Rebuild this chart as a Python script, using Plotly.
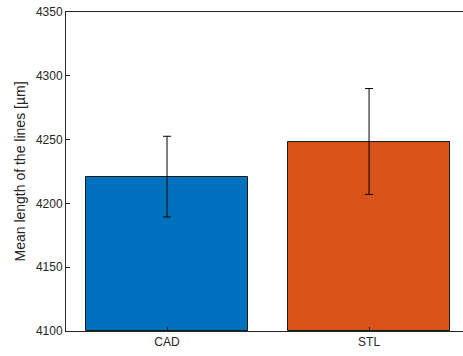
import plotly.graph_objects as go

categories = ["CAD", "STL"]
means = [4221, 4248.5]
errors = [31.6, 41.5]
colors = ["#0072BD", "#D95319"]
ytick_vals = [4100, 4150, 4200, 4250, 4300, 4350]

x_pos = [1, 2]

fig = go.Figure()
fig.add_trace(go.Bar(
    x=x_pos, y=[m - 4100 for m in means], base=4100, width=0.8,
    marker=dict(color=colors, line=dict(color="#1a1a1a", width=1)),
    error_y=dict(type="data", array=errors, color="black", thickness=1, width=4),
    showlegend=False,
))

fig.update_layout(
    width=463, height=356,
    margin=dict(l=65.5, r=0, t=12, b=25, autoexpand=False),
    plot_bgcolor="white", paper_bgcolor="white",
    font=dict(family="Liberation Sans, Arial, sans-serif", size=12, color="#262626"),
    bargap=0,
)
fig.update_xaxes(
    range=[0.5, 2.465], tickvals=x_pos, ticktext=categories,
    ticks="inside", ticklen=4, tickcolor="#262626",
    showline=True, linecolor="#262626", linewidth=1, mirror=True,
    showgrid=False, zeroline=False, automargin=False,
)
fig.update_yaxes(
    range=[4100, 4350], tickvals=ytick_vals,
    ticks="inside", ticklen=4, tickcolor="#262626",
    showline=True, linecolor="#262626", linewidth=1, mirror=False,
    showgrid=False, zeroline=False, automargin=False,
    title=dict(text="Mean length of the lines [µm]", standoff=6),
)

fig.write_html("out.html", config={"displayModeBar": False},
               post_script="document.body.style.margin='0px';")
